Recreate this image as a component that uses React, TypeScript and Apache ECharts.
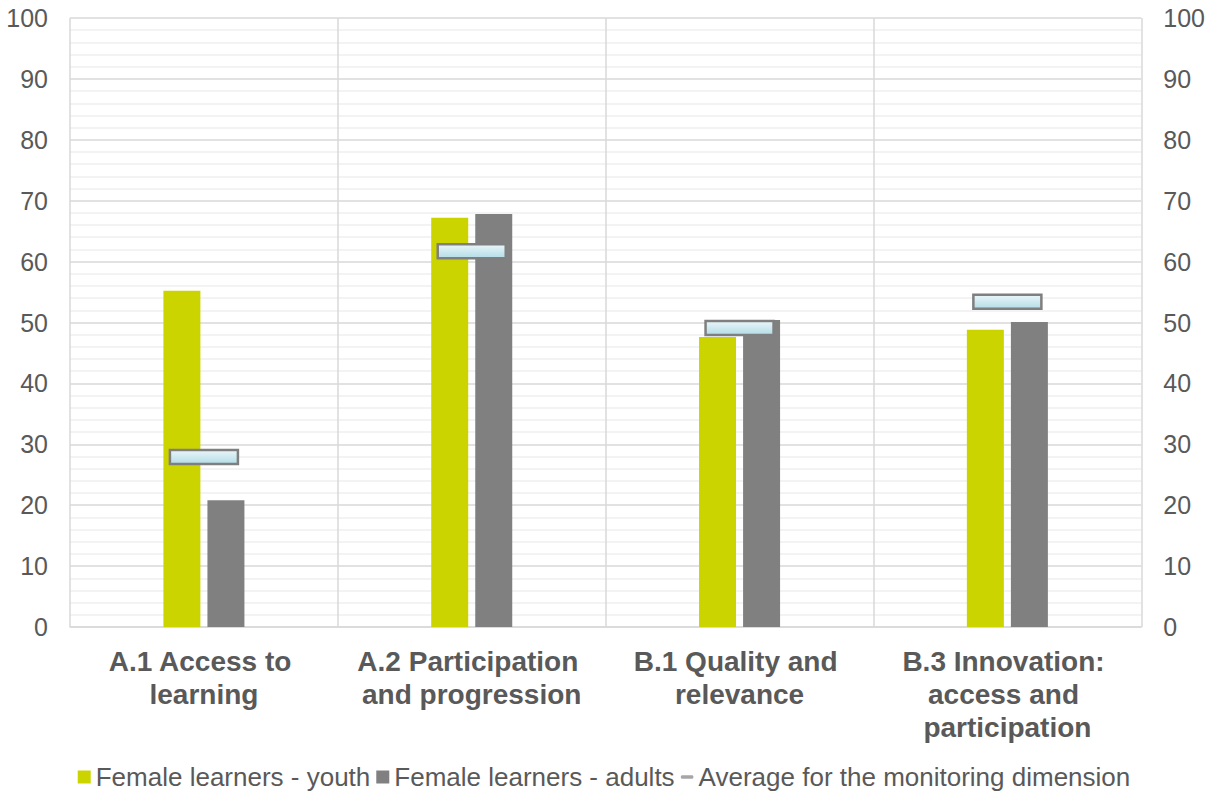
import React, { useEffect, useRef } from "react";
import * as echarts from "echarts";

const categories = [
  "A.1 Access to learning",
  "A.2 Participation and progression",
  "B.1 Quality and relevance",
  "B.3 Innovation: access and participation",
];
const youth = [55.2, 67.2, 47.6, 48.8];
const adults = [20.8, 67.8, 50.4, 50.1];
const average = [27.9, 61.7, 49.1, 53.4];

const seriesNames = [
  "Female learners - youth",
  "Female learners - adults",
  "Average for the monitoring dimension",
];

export default function App() {
  const ref = useRef<HTMLDivElement>(null);
  useEffect(() => {
    if (!ref.current) return;
    const chart = echarts.init(ref.current, undefined, { renderer: "svg" });
    const textColor = "#595959";
    const font = "'Liberation Sans', Arial, sans-serif";
    const yAxisCommon = {
      type: "value",
      min: 0,
      max: 100,
      interval: 10,
      minorTick: { show: false, splitNumber: 5 },
      axisLine: { show: false },
      axisTick: { show: false },
      axisLabel: { color: textColor, fontSize: 25, fontFamily: font, margin: 22 },
    };
    chart.setOption({
      animation: false,
      grid: { left: 70, right: 60, top: 18, bottom: 170, containLabel: false },
      legend: {
        bottom: 2,
        left: "center",
        itemWidth: 13,
        itemHeight: 13,
        itemGap: 6,
        textStyle: { color: textColor, fontSize: 26, fontFamily: font },
        data: [
          { name: seriesNames[0], icon: "rect" },
          { name: seriesNames[1], icon: "rect" },
          {
            name: seriesNames[2],
            icon: "path://M2,0 L14,0 Q16,2 14,4 L2,4 Q0,2 2,0 Z",
            itemStyle: { color: "#a6a6a6", borderWidth: 0 },
          },
        ],
      },
      xAxis: {
        type: "category",
        data: categories,
        axisLine: { show: true, lineStyle: { color: "#d9d9d9", width: 1.5 } },
        axisTick: { show: false },
        splitLine: { show: true, lineStyle: { color: "#d9d9d9", width: 1.5 } },
        axisLabel: {
          color: textColor,
          fontSize: 28,
          fontWeight: "bold",
          fontFamily: font,
          margin: 18,
          lineHeight: 33,
          width: 260,
          overflow: "break",
          interval: 0,
        },
      },
      yAxis: [
        {
          ...yAxisCommon,
          position: "left",
          splitLine: { show: true, lineStyle: { color: "#d9d9d9", width: 1.5 } },
          minorSplitLine: { show: true, lineStyle: { color: "#efefef", width: 1.5 } },
        },
        {
          ...yAxisCommon,
          position: "right",
          splitLine: { show: false },
          minorSplitLine: { show: false },
        },
      ],
      series: [
        {
          name: seriesNames[0],
          type: "bar",
          data: youth,
          barWidth: 37,
          barGap: "19%",
          itemStyle: { color: "#ccd400" },
        },
        {
          name: seriesNames[1],
          type: "bar",
          data: adults,
          barWidth: 37,
          itemStyle: { color: "#808080" },
        },
        {
          name: seriesNames[2],
          type: "custom",
          data: average.map((v, i) => [i, v]),
          z: 5,
          itemStyle: { color: "#a6a6a6" },
          renderItem: (params: any, api: any) => {
            const p = api.coord([api.value(0), api.value(1)]);
            const w = 68;
            const h = 14;
            return {
              type: "rect",
              shape: { x: p[0] - w / 2, y: p[1] - h / 2, width: w, height: h },
              style: {
                fill: new echarts.graphic.LinearGradient(0, 0, 0, 1, [
                  { offset: 0, color: "#eaf6f9" },
                  { offset: 1, color: "#b3dce6" },
                ]),
                stroke: "#7f7f7f",
                lineWidth: 2.5,
              },
            };
          },
        },
      ],
    });
    return () => chart.dispose();
  }, []);
  return (
    <div
      ref={ref}
      style={{ position: "absolute", left: 0, top: 0, width: 1208, height: 797, overflow: "hidden" }}
    />
  );
}
